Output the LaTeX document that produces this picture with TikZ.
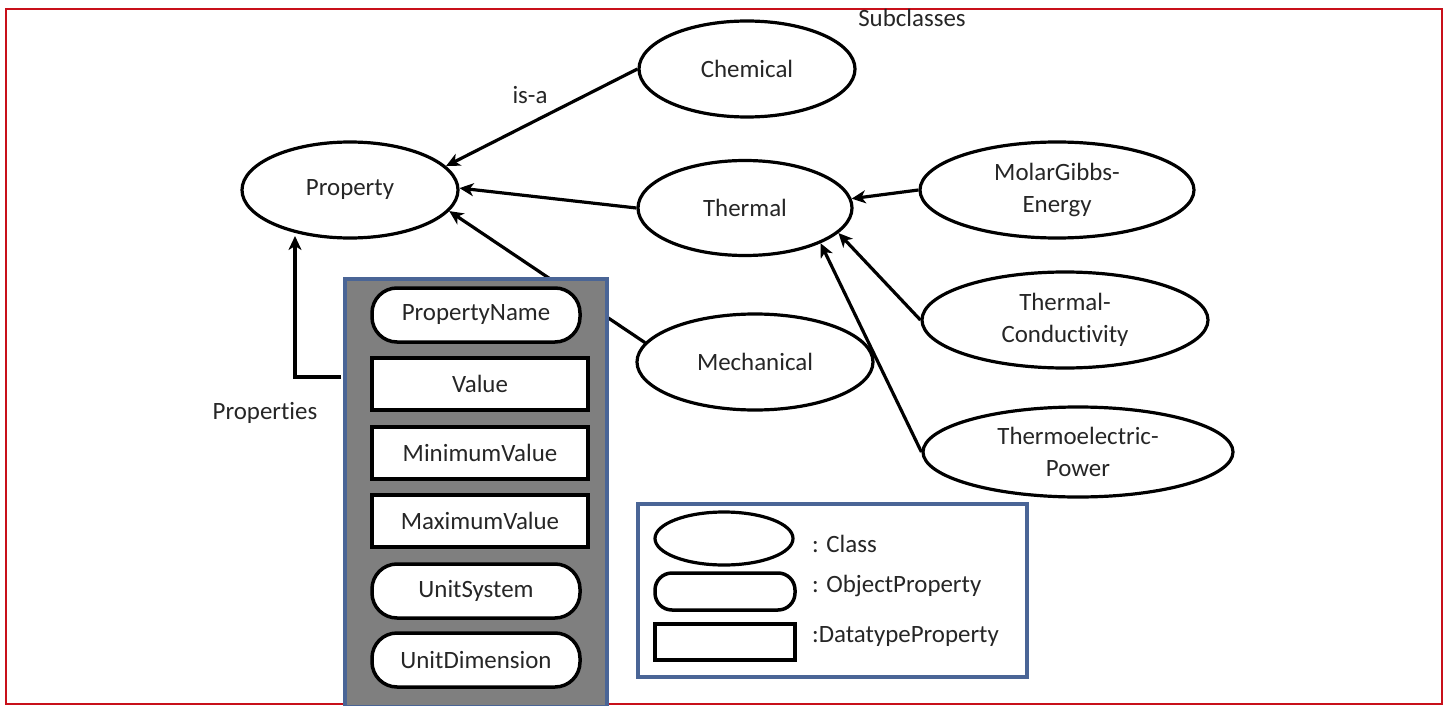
\documentclass[tikz,border=0pt]{standalone}
\usepackage{fontspec}
\setmainfont{Carlito}[Ligatures=NoCommon]
\usetikzlibrary{shapes.geometric,arrows.meta}
\definecolor{framered}{HTML}{C8101A}
\definecolor{boxblue}{HTML}{4A6596}
\definecolor{boxgray}{HTML}{7F7F7F}
\definecolor{txt}{HTML}{262626}
\begin{document}
\begin{tikzpicture}[x=1bp,y=-1bp,
  font=\fontsize{25}{32}\selectfont, text=txt,
  cls/.style={ellipse, draw=black, line width=3.2bp, inner sep=0pt, align=center, fill=white},
  objprop/.style={rectangle, rounded corners=25bp, draw=black, line width=3.5bp, fill=white,
    minimum width=208bp, minimum height=54bp, inner sep=0pt},
  dtprop/.style={rectangle, draw=black, line width=3.5bp, fill=white,
    minimum width=216bp, minimum height=52bp, inner sep=0pt},
  isa/.style={-{Stealth[length=14bp,width=13bp,inset=4bp]}, line width=3.2bp, draw=black},
  lbl/.style={inner sep=0pt},
  panel/.style={draw=boxblue, line width=3.2bp}]
\useasboundingbox (0,0) rectangle (1450,706);
\fill[white] (0,0) rectangle (1450,706);
% outer frame
\draw[framered, line width=1.5bp] (6,9) rectangle (1442,704);

% class nodes
\node[cls, minimum width=216bp, minimum height=96bp] (prop) at (350,190) {Property};
\node[cls, minimum width=216bp, minimum height=96bp] (chem) at (747,69) {Chemical};
\node[cls, minimum width=214bp, minimum height=95bp] (therm) at (745,208) {Thermal};
\node[cls, minimum width=236bp, minimum height=96bp] (mech) at (755,362) {Mechanical};
\node[cls, minimum width=274bp, minimum height=96bp] (molar) at (1057,190) {MolarGibbs-\\Energy};
\node[cls, minimum width=286bp, minimum height=96bp] (tc) at (1065,320) {Thermal-\\Conductivity};
\node[cls, minimum width=310bp, minimum height=90bp] (te) at (1078,452) {Thermoelectric-\\Power};

% free labels
\node[lbl] (sub) at (912,18) {Subclasses};
\node[lbl] (isalbl) at (530,95) {is-a};
\node[lbl] (plbl) at (265,413) {Properties};

% is-a connectors
\draw[isa] (chem.west) -- (prop.14);
\draw[isa] (therm.west) -- (prop.1);
\draw[isa] (mech.170) -- (prop.-12);
\draw[isa] (molar.west) -- (therm.5);
\draw[isa] (tc.west) -- (therm.-15);
\draw[isa] (te.west) -- (therm.-25);

% properties panel
\node[panel, fill=boxgray, minimum width=262bp, minimum height=428bp, inner sep=0pt] (pbox) at (476,493) {};
\node[objprop] (pname) at (476,315) {PropertyName};
\node[dtprop] (pval) at (480,384) {Value};
\node[dtprop] (pmin) at (480,453) {MinimumValue};
\node[dtprop] (pmax) at (480,521) {MaximumValue};
\node[objprop] (punit) at (476,591) {UnitSystem};
\node[objprop] (pdim) at (476,660) {UnitDimension};

% properties connector
\coordinate (pin) at (341,377);
\coordinate (ptip) at (295,236);
\draw[isa] (pin) -| (ptip);

% legend
\node[panel, fill=white, minimum width=389bp, minimum height=173bp, inner sep=0pt] (legend) at (832.5,590.5) {};
\node[ellipse, draw=black, line width=3.2bp, minimum width=138bp, minimum height=53bp, inner sep=0pt] (lcls) at (724,538.5) {};
\node[rectangle, rounded corners=17bp, draw=black, line width=3.5bp, minimum width=140bp, minimum height=37bp, inner sep=0pt] (lobj) at (725,591.5) {};
\node[rectangle, draw=black, line width=3.5bp, minimum width=140bp, minimum height=36bp, inner sep=0pt] (ldt) at (725,642) {};
\node[lbl, anchor=west] (tcls) at (812,544) {: Class};
\node[lbl, anchor=west] (tobj) at (812,586) {: ObjectProperty};
\node[lbl, anchor=west] (tdt) at (812,637) {:DatatypeProperty};
\end{tikzpicture}
\end{document}
